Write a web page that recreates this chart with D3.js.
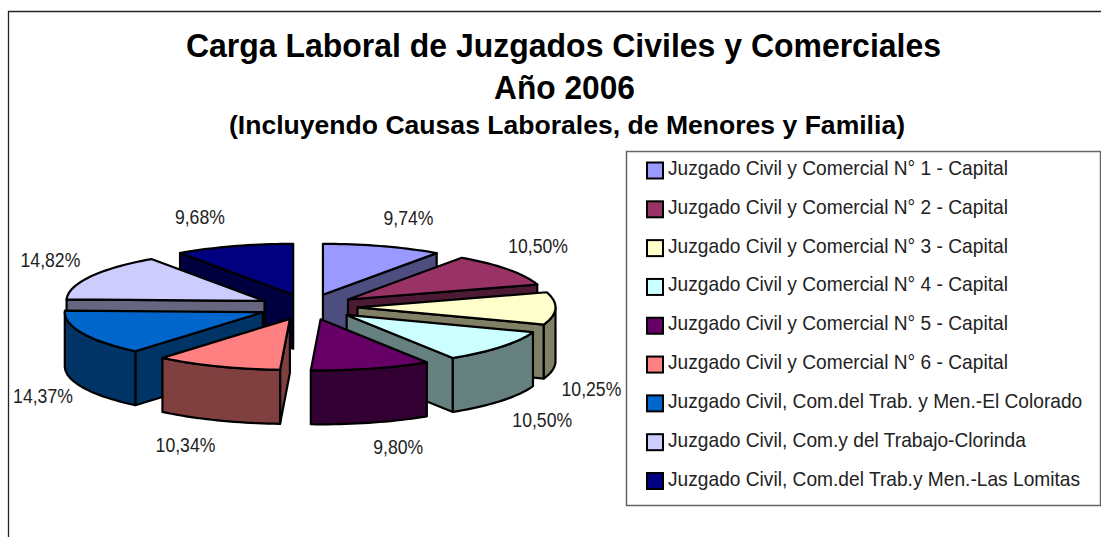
<!DOCTYPE html>
<html><head><meta charset="utf-8">
<script src="https://cdn.jsdelivr.net/npm/d3@7"></script>
<style>
html,body{margin:0;padding:0;background:#fff;overflow:hidden}
svg{display:block}
text{font-family:"Liberation Sans",Arial,sans-serif}
</style></head><body>
<div id="chart"></div>
<script>
// ---- data ----
const courts = [
  "Juzgado Civil y Comercial N° 1 - Capital",
  "Juzgado Civil y Comercial N° 2 - Capital",
  "Juzgado Civil y Comercial N° 3 - Capital",
  "Juzgado Civil y Comercial N° 4 - Capital",
  "Juzgado Civil y Comercial N° 5 - Capital",
  "Juzgado Civil y Comercial N° 6 - Capital",
  "Juzgado Civil, Com.del Trab. y Men.-El Colorado",
  "Juzgado Civil, Com.y del Trabajo-Clorinda",
  "Juzgado Civil, Com.del Trab.y Men.-Las Lomitas"
];
const shares = [9.74, 10.50, 10.25, 10.50, 9.80, 10.34, 14.37, 14.82, 9.68];
const topColors = ["#9999FF","#993366","#FFFFCC","#CCFFFF","#660066","#FF8080","#0066CC","#CCCCFF","#000080"];
const sideColors = ["#4D4D80","#4D1A33","#808066","#668080","#330033","#804040","#003366","#666680","#000040"];
const titleLines = ["Carga Laboral de Juzgados Civiles y Comerciales","Año 2006","(Incluyendo Causas Laborales, de Menores y Familia)"];

// ---- layout ----
const W = 1101, H = 537;
const labelOffsets = [[26,-29],[30,-24],[36,80],[41,73],[27,78],[-32,78],[-39,63],[-40,-17],[-34,-30]];
const titleLayout = [
  {size:33.5, y:57, x0:186, x1:941},
  {size:33.5, y:98.5, x0:494, x1:635},
  {size:26.5, y:134, x0:229, x1:905}
];
const cx = 308, cy = 307, rx = 198, ry = 51, depth = 54, explode = 0.25;

const svg = d3.select("#chart").append("svg").attr("width",W).attr("height",H);

// chart frame (open at right and bottom, as cropped in the source)
svg.append("path").attr("d",`M8.5,${H}V11.5H${W}`).attr("fill","none").attr("stroke","#222").attr("stroke-width",1.3);

// title
svg.selectAll("text.title").data(titleLines).join("text").attr("class","title")
  .attr("x",(d,i)=>titleLayout[i].x0).attr("y",(d,i)=>titleLayout[i].y)
  .attr("font-size",(d,i)=>titleLayout[i].size).attr("font-weight","bold").attr("fill","#000")
  .attr("textLength",(d,i)=>titleLayout[i].x1-titleLayout[i].x0).attr("lengthAdjust","spacingAndGlyphs")
  .text(d=>d);

// projection of the unit disc to the tilted screen ellipse
const px = d3.scaleLinear().domain([-1,1]).range([cx-rx,cx+rx]);
const py = d3.scaleLinear().domain([-1,1]).range([cy-ry,cy+ry]);

const arcs = d3.pie().sort(null).value(d=>d)(shares);
arcs.forEach((a,i)=>{
  a.i = i;
  a.mid = (a.startAngle+a.endAngle)/2;
  a.ox = explode*Math.sin(a.mid);
  a.oy = -explode*Math.cos(a.mid);
});
const apex = a => [px(a.ox), py(a.oy)];
const rim = (a,t) => [px(a.ox+Math.sin(t)), py(a.oy-Math.cos(t))];
const angles = (t0,t1) => {
  const n = Math.max(2,Math.ceil((t1-t0)/0.03));
  return d3.range(n+1).map(k=>t0+(t1-t0)*k/n);
};
const down = p => [p[0],p[1]+depth];
const line = d3.line();
const closed = pts => line(pts)+"Z";

const drawOrder = arcs.slice().sort((a,b)=>Math.cos(b.mid)-Math.cos(a.mid));
const slices = svg.selectAll("g.slice").data(drawOrder).join("g").attr("class","slice")
  .attr("stroke","#000").attr("stroke-width",2.2).attr("stroke-linejoin","round");

slices.each(function(a){
  const g = d3.select(this);
  const side = sideColors[a.i], face = topColors[a.i];
  const c = apex(a);
  // radial walls that face the viewer
  [[a.startAngle, Math.sin(a.startAngle)<0],[a.endAngle, Math.sin(a.endAngle)>0]].forEach(([t,vis])=>{
    if(!vis) return;
    const e = rim(a,t);
    g.append("path").attr("d",closed([c,e,down(e),down(c)])).attr("fill",side);
  });
  // outer wall, front half of the rim only
  const t0 = Math.max(a.startAngle,Math.PI/2), t1 = Math.min(a.endAngle,Math.PI*1.5);
  if(t1>t0){
    const upper = angles(t0,t1).map(t=>rim(a,t));
    g.append("path").attr("d",closed(upper.concat(upper.slice().reverse().map(down)))).attr("fill",side);
  }
  // top face
  g.append("path").attr("d",closed([c].concat(angles(a.startAngle,a.endAngle).map(t=>rim(a,t))))).attr("fill",face);
});

// percentage labels (horizontally condensed, as in the source)
const pct = v => v.toFixed(2).replace(".",",")+"%";
svg.selectAll("text.pct").data(arcs).join("text").attr("class","pct")
  .attr("transform",a=>`translate(${rim(a,a.mid)[0]+labelOffsets[a.i][0]},${rim(a,a.mid)[1]+labelOffsets[a.i][1]+7.5}) scale(0.84,1)`)
  .attr("text-anchor","middle").attr("font-size",21).attr("fill","#222")
  .text(a=>pct(a.value));

// legend
svg.append("rect").attr("x",626.5).attr("y",151.5).attr("width",474).attr("height",354)
  .attr("fill","#fff").attr("stroke","#666").attr("stroke-width",1.5);
const rowY = d3.scalePoint().domain(d3.range(courts.length)).range([170.5,481]);
const rows = svg.selectAll("g.row").data(courts).join("g").attr("class","row")
  .attr("transform",(d,i)=>`translate(0,${rowY(i)})`);
rows.append("rect").attr("x",647).attr("y",-8).attr("width",16).attr("height",16)
  .attr("fill",(d,i)=>topColors[i]).attr("stroke","#000").attr("stroke-width",2);
rows.append("text").attr("transform","translate(668,4.5) scale(0.913,1)").attr("font-size",21).attr("fill","#222")
  .text(d=>d);
</script>
</body></html>
